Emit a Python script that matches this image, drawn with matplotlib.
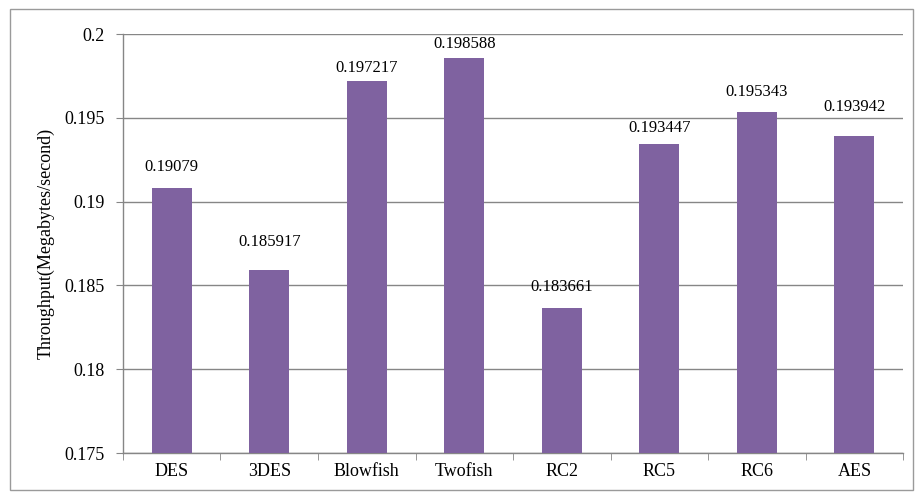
import numpy as np
import matplotlib.pyplot as plt
from matplotlib.patches import Rectangle

# Data
algorithms = ["DES", "3DES", "Blowfish", "Twofish", "RC2", "RC5", "RC6", "AES"]
throughput = [0.19079, 0.185917, 0.197217, 0.198588, 0.183661, 0.193447, 0.195343, 0.193942]
value_labels = ["0.19079", "0.185917", "0.197217", "0.198588", "0.183661", "0.193447", "0.195343", "0.193942"]
y_ticks = [0.175, 0.18, 0.185, 0.19, 0.195, 0.2]
y_tick_labels = ["0.175", "0.18", "0.185", "0.19", "0.195", "0.2"]

plt.rcParams['font.family'] = ['Liberation Serif', 'DejaVu Serif']

fig = plt.figure(figsize=(9.17, 4.93), dpi=100)
ax = fig.add_axes([0.134, 0.081, 0.851, 0.850])

x = np.arange(len(algorithms))
bars = ax.bar(x, throughput, width=0.41, color="#7F62A0", zorder=3)

ax.set_ylim(0.175, 0.2)
ax.set_xlim(-0.5, len(algorithms) - 0.5)
ax.set_yticks(y_ticks)
ax.set_yticklabels(y_tick_labels, fontsize=13)
ax.set_xticks(x)
ax.set_xticklabels(algorithms, fontsize=13)
ax.set_xticks(np.arange(-0.5, len(algorithms)), minor=True)
ax.tick_params(axis='x', which='major', length=0, pad=7)
ax.tick_params(axis='x', which='minor', length=5, color="#868686")
ax.tick_params(axis='y', length=5, color="#868686", pad=8)

ax.grid(axis='y', color="#868686", linewidth=1, zorder=0)
for s in ["top", "right"]:
    ax.spines[s].set_visible(False)
for s in ["left", "bottom"]:
    ax.spines[s].set_color("#868686")
    ax.spines[s].set_linewidth(1)

# label placement (pixels above bar top), as in the original excel chart
label_gap = [21, 28, 13, 14, 21, 16, 20, 29]
for xi, v, lab, g in zip(x, throughput, value_labels, label_gap):
    ax.annotate(lab, (xi, v), xytext=(0, g), textcoords='offset pixels',
                ha='center', va='center', fontsize=12, annotation_clip=False)

ax.set_ylabel("Throughput(Megabytes/second)", fontsize=13, labelpad=7)

# outer chart border
fig.patches.append(Rectangle((0.011, 0.006), 0.985, 0.975, transform=fig.transFigure,
                             fill=False, edgecolor="#9a9a9a", linewidth=1))

fig.savefig("out.png", dpi=100)
